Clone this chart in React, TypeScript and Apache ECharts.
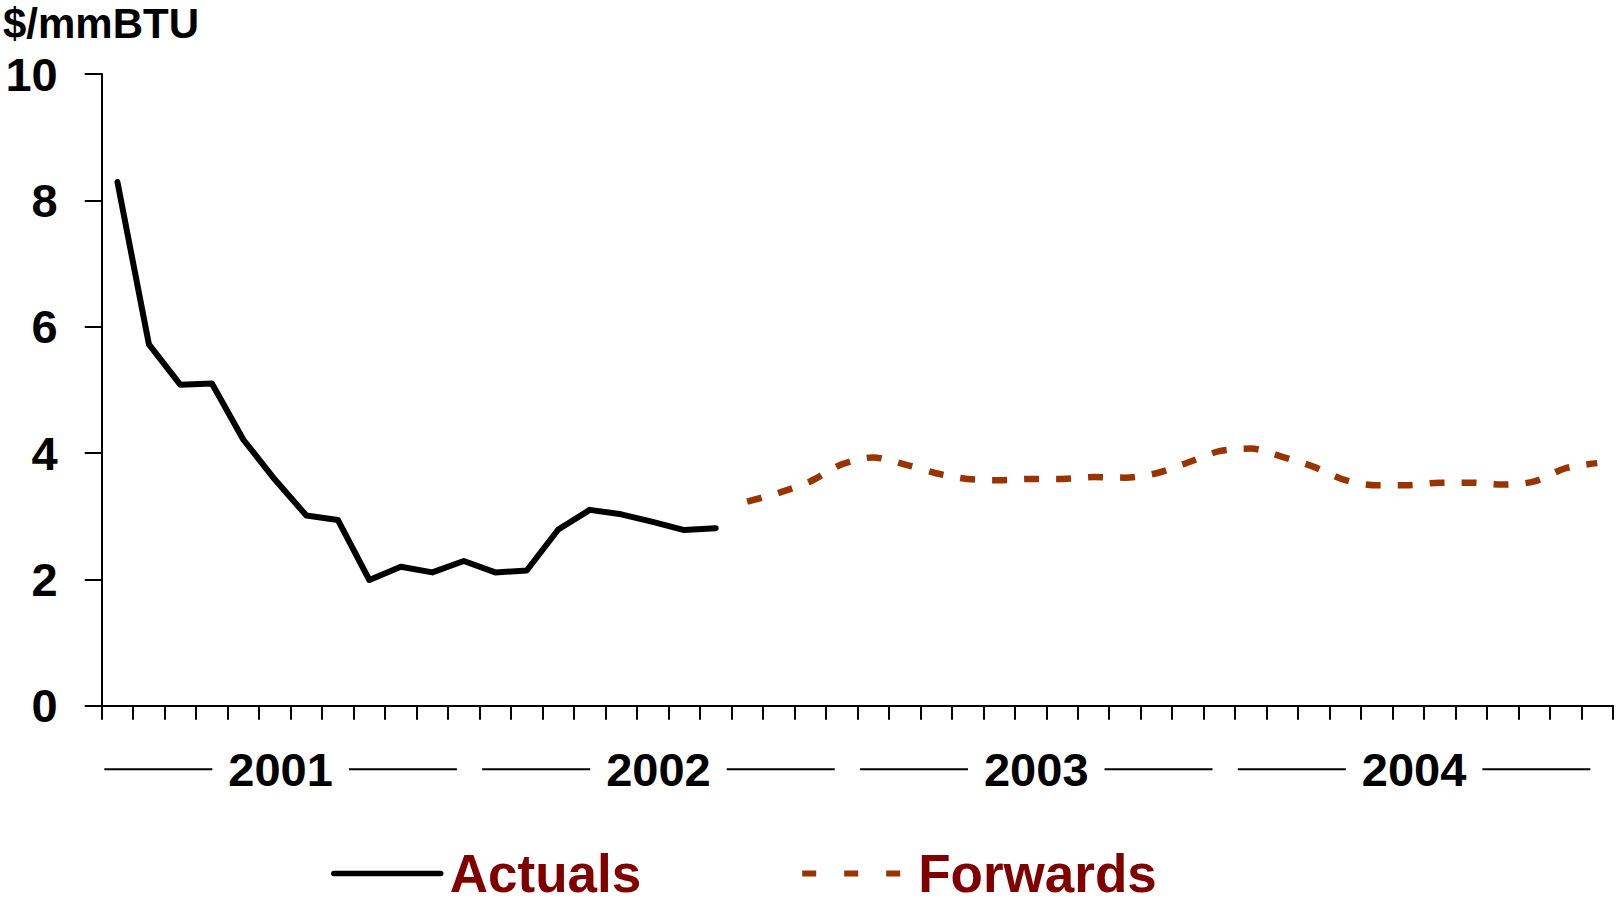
import React, { useEffect, useRef } from "react";
import * as echarts from "echarts";

const FONT = "'Liberation Sans', Arial, Helvetica, sans-serif";

const years = ["2001", "2002", "2003", "2004"];
const monthNames = ["Jan", "Feb", "Mar", "Apr", "May", "Jun", "Jul", "Aug", "Sep", "Oct", "Nov", "Dec"];
const categories = years.flatMap((y) => monthNames.map((m) => `${m} ${y}`));

const yTicks = [0, 2, 4, 6, 8, 10];

// Monthly actuals, Jan 2001 - Aug 2002
const actuals = [
  8.29, 5.72, 5.08, 5.1, 4.21, 3.58, 3.01, 2.94, 1.99, 2.2, 2.11, 2.29,
  2.11, 2.14, 2.79, 3.1, 3.03, 2.91, 2.78, 2.81,
];

// Monthly forwards, Sep 2002 - Dec 2004
const forwardsStart = 20;
const forwards = [
  3.23, 3.37, 3.55, 3.82, 3.93, 3.82, 3.68, 3.59, 3.57, 3.59, 3.59, 3.62,
  3.61, 3.68, 3.85, 4.03, 4.07, 3.94, 3.78, 3.57, 3.49, 3.49, 3.53, 3.53,
  3.5, 3.55, 3.76, 3.84,
];

export default function App() {
  const ref = useRef<HTMLDivElement>(null);

  useEffect(() => {
    if (!ref.current) return;
    const chart = echarts.init(ref.current, null, { renderer: "svg" });
    chart.setOption({
      animation: false,
      backgroundColor: "#ffffff",
      textStyle: { fontFamily: FONT },
      title: {
        text: "$/mmBTU",
        left: 3,
        top: 2,
        padding: 0,
        textStyle: { fontSize: 42, fontWeight: "bold", color: "#000", fontFamily: FONT },
      },
      grid: { left: 101.7, right: 3, top: 74, bottom: 196.3, containLabel: false },
      legend: {
        left: 331,
        top: 847,
        padding: 0,
        itemWidth: 107,
        itemHeight: 14,
        itemGap: 158,
        selectedMode: false,
        textStyle: {
          fontSize: 53,
          fontWeight: "bold",
          color: "#800000",
          fontFamily: FONT,
          padding: [0, 0, 0, 4],
        },
        data: [
          {
            name: "Actuals",
            itemStyle: { opacity: 0 },
            lineStyle: { width: 5.5, color: "#000", cap: "round" },
          },
          {
            name: "Forwards",
            itemStyle: { opacity: 0 },
            lineStyle: { width: 6, color: "#993300", type: [14, 28] },
          },
        ],
      },
      xAxis: [
        {
          type: "category",
          data: categories,
          boundaryGap: true,
          axisLine: { show: true, lineStyle: { color: "#000", width: 2 } },
          axisTick: { show: true, interval: 0, length: 14, lineStyle: { color: "#000", width: 2 } },
          axisLabel: { show: false, interval: 0 },
          splitLine: { show: false },
        },
        {
          type: "category",
          data: years,
          position: "bottom",
          boundaryGap: true,
          axisLine: { show: false },
          axisTick: { show: false },
          splitLine: { show: false },
          axisLabel: {
            show: true,
            interval: 0,
            margin: 40,
            padding: [0, 20, 0, 0],
            formatter: (v: string) => `{l|}{y|${v}}{l|}`,
            rich: {
              l: { width: 108, height: 2, backgroundColor: "#000" },
              y: {
                fontSize: 47,
                fontWeight: "bold",
                color: "#000",
                fontFamily: FONT,
                padding: [0, 16, 0, 16],
              },
            },
          },
        },
      ],
      yAxis: {
        type: "value",
        min: yTicks[0],
        max: yTicks[yTicks.length - 1],
        interval: 2,
        axisLine: { show: true, lineStyle: { color: "#000", width: 2 } },
        axisTick: { show: true, length: 17, lineStyle: { color: "#000", width: 2 } },
        axisLabel: {
          margin: 44,
          fontSize: 47,
          fontWeight: "bold",
          color: "#000",
          fontFamily: FONT,
        },
        splitLine: { show: false },
      },
      series: [
        {
          name: "Actuals",
          type: "line",
          xAxisIndex: 0,
          symbol: "none",
          data: actuals.map((v, i) => [i, v]),
          lineStyle: { color: "#000", width: 6, cap: "round", join: "round" },
          itemStyle: { color: "#000" },
        },
        {
          name: "Forwards",
          type: "line",
          xAxisIndex: 0,
          symbol: "none",
          smooth: 0.3,
          data: forwards.map((v, i) => [i + forwardsStart, v]),
          lineStyle: { color: "#993300", width: 6.5, type: [15, 17] },
          itemStyle: { color: "#993300" },
        },
      ],
    });
    return () => chart.dispose();
  }, []);

  return (
    <div
      ref={ref}
      style={{ position: "absolute", left: 0, top: 0, width: 1616, height: 902, background: "#fff" }}
    />
  );
}
